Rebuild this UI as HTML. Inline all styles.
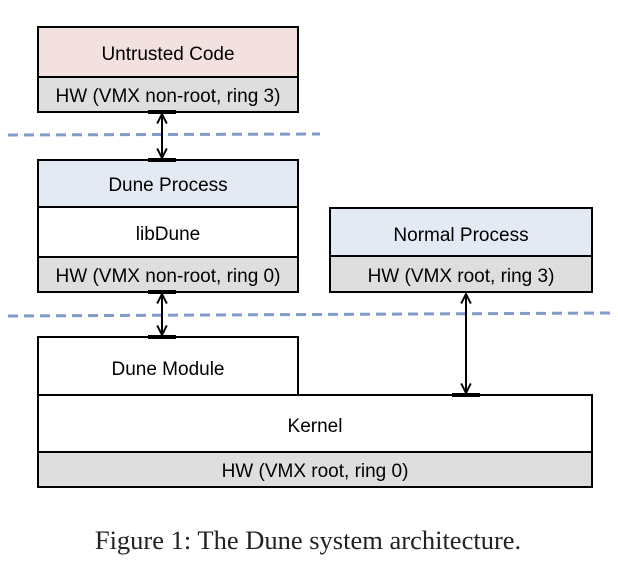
<!DOCTYPE html>
<html><head><meta charset="utf-8"><style>
html,body{margin:0;padding:0;background:#fff;width:618px;height:571px;overflow:hidden}
text{font-family:"Liberation Sans",Calibri,sans-serif;font-size:19px;fill:#000}
</style></head><body>
<svg width="618" height="571" viewBox="0 0 618 571" xmlns="http://www.w3.org/2000/svg">
<defs>
<marker id="a" viewBox="0 0 10 10" refX="9" refY="5" markerWidth="6" markerHeight="6" orient="auto-start-reverse"><path d="M1,1 L9,5 L1,9" fill="none" stroke="#000" stroke-width="1.6"/></marker>
</defs>
<g stroke="#7f9ccc" stroke-width="3" stroke-dasharray="10,6">
<line x1="8" y1="135" x2="320" y2="134"/>
<line x1="8" y1="316" x2="612" y2="313"/>
</g>
<g stroke="#000" stroke-width="2">
<rect x="38" y="27" width="260" height="50" fill="#f2e1df"/>
<rect x="38" y="77" width="260" height="35" fill="#dedede"/>
<rect x="38" y="160" width="260" height="47" fill="#e4eaf4"/>
<rect x="38" y="207" width="260" height="50" fill="#fff"/>
<rect x="38" y="257" width="260" height="35" fill="#dedede"/>
<rect x="330" y="208" width="262" height="48" fill="#e4eaf4"/>
<rect x="330" y="256" width="262" height="36" fill="#dedede"/>
<rect x="38" y="337" width="260" height="58" fill="#fff"/>
<rect x="38" y="395" width="554" height="57" fill="#fff"/>
<rect x="38" y="452" width="554" height="35" fill="#dedede"/>
</g>
<g stroke="#000" stroke-width="2" marker-start="url(#a)" marker-end="url(#a)">
<line x1="162" y1="114" x2="162" y2="158"/>
<line x1="162" y1="294" x2="162" y2="335"/>
<line x1="466" y1="294" x2="466" y2="393"/>
</g>
<g stroke="#000" stroke-width="4">
<line x1="148" y1="112" x2="176" y2="112"/>
<line x1="148" y1="160" x2="176" y2="160"/>
<line x1="148" y1="292" x2="176" y2="292"/>
<line x1="148" y1="337" x2="176" y2="337"/>
<line x1="452" y1="395" x2="480" y2="395"/>
</g>
<g text-anchor="middle">
<text x="168" y="60">Untrusted Code</text>
<text x="168" y="102">HW (VMX non-root, ring 3)</text>
<text x="168" y="191">Dune Process</text>
<text x="168" y="240">libDune</text>
<text x="168" y="282">HW (VMX non-root, ring 0)</text>
<text x="461" y="241">Normal Process</text>
<text x="461" y="282">HW (VMX root, ring 3)</text>
<text x="168" y="375">Dune Module</text>
<text x="315" y="432">Kernel</text>
<text x="315" y="477">HW (VMX root, ring 0)</text>
<text x="308" y="549" style="font-family:'Liberation Serif',serif;font-size:26.5px;fill:#222">Figure 1: The Dune system architecture.</text>
</g>
</svg>
</body></html>
